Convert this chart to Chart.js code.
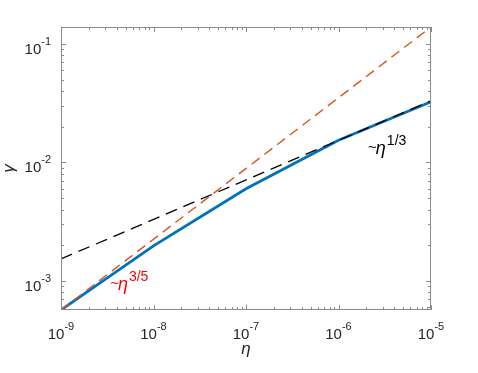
<!DOCTYPE html>
<html>
<head>
<meta charset="utf-8">
<script src="https://cdn.jsdelivr.net/npm/chart.js@4"></script>
<style>
  html, body { margin: 0; padding: 0; background: #fff; }
  #wrap { width: 478px; height: 373px; }
</style>
</head>
<body>
<div id="wrap"><canvas id="c"></canvas></div>
<script>
// data
const etaSim = [1e-9, 1e-8, 1e-7, 1e-6, 1e-5];
const gammaSim = [5.69e-4, 1.98e-3, 6.0e-3, 1.54e-2, 3.25e-2];
const etaFit = [1e-9, 1e-5];
const fit35 = [5.69e-4, 0.139];
const fit13 = [1.535e-3, 0.0331];
const xTickExp = [-9, -8, -7, -6, -5];
const yTickExp = [-3, -2, -1];
const xRange = [1e-9, 1e-5];
const yRange = [5.69e-4, 0.139];

const axisGray = '#8a8a8a';
const textCol = '#262626';
const FONT = '"Liberation Sans", Arial, Helvetica, sans-serif';

function pts(xs, ys) { return xs.map((x, i) => ({ x: x, y: ys[i] })); }

// draws "10" with a raised exponent; align: 'center' or 'right'
function powLabel(ctx, x, base, exp, align, color) {
  ctx.fillStyle = color;
  ctx.font = '15px ' + FONT;
  const wb = ctx.measureText('10').width;
  ctx.font = '11px ' + FONT;
  const we = ctx.measureText(exp).width;
  const w = wb + we;
  const left = align === 'center' ? x - w / 2 : x - w;
  ctx.textAlign = 'left';
  ctx.textBaseline = 'alphabetic';
  ctx.font = '15px ' + FONT;
  ctx.fillText('10', left, base);
  ctx.font = '11px ' + FONT;
  ctx.fillText(exp, left + wb, base - 9);
}

const frame = {
  id: 'frame',
  afterDraw(chart) {
    const ctx = chart.ctx;
    const a = chart.chartArea;
    const xs = chart.scales.x, ys = chart.scales.y;
    ctx.save();
    ctx.strokeStyle = axisGray;
    ctx.lineWidth = 1;
    ctx.strokeRect(a.left + 0.5, a.top + 0.5, a.right - a.left - 1, a.bottom - a.top - 1);

    // x ticks (bottom and top, pointing inward)
    for (let e = -9; e <= -5; e++) {
      for (let m = 1; m <= 9; m++) {
        const v = m * Math.pow(10, e);
        if (v > xRange[1] * 1.0001) break;
        const px = Math.round(xs.getPixelForValue(v)) + 0.5;
        const len = m === 1 ? 5 : 3;
        ctx.beginPath();
        ctx.moveTo(px, a.bottom); ctx.lineTo(px, a.bottom - len);
        ctx.moveTo(px, a.top); ctx.lineTo(px, a.top + len);
        ctx.stroke();
      }
    }
    // y ticks (left and right)
    for (let e = -4; e <= -1; e++) {
      for (let m = 1; m <= 9; m++) {
        const v = m * Math.pow(10, e);
        if (v < yRange[0] || v > yRange[1]) continue;
        const py = Math.round(ys.getPixelForValue(v)) + 0.5;
        const len = m === 1 ? 5 : 3;
        ctx.beginPath();
        ctx.moveTo(a.left, py); ctx.lineTo(a.left + len, py);
        ctx.moveTo(a.right, py); ctx.lineTo(a.right - len, py);
        ctx.stroke();
      }
    }

    // tick labels
    xTickExp.forEach(e => {
      powLabel(ctx, xs.getPixelForValue(Math.pow(10, e)), a.bottom + 29, String(e), 'center', textCol);
    });
    yTickExp.forEach(e => {
      powLabel(ctx, a.left - 10, ys.getPixelForValue(Math.pow(10, e)) + 10, String(e), 'right', textCol);
    });

    // axis titles
    ctx.fillStyle = textCol;
    ctx.font = 'italic 17px ' + FONT;
    ctx.textAlign = 'center';
    ctx.textBaseline = 'alphabetic';
    ctx.fillText('η', (a.left + a.right) / 2, a.bottom + 44);
    ctx.save();
    ctx.translate(14, (a.top + a.bottom) / 2);
    ctx.rotate(-Math.PI / 2);
    ctx.fillText('γ', 0, 0);
    ctx.restore();

    // slope annotations
    const note = (xv, yv, exp, color) => {
      let px = xs.getPixelForValue(xv), py = ys.getPixelForValue(yv);
      ctx.fillStyle = color;
      ctx.textAlign = 'left';
      ctx.font = '15px ' + FONT;
      ctx.fillText('~', px, py - 2);
      px += ctx.measureText('~').width - 1;
      ctx.font = 'italic 18px ' + FONT;
      ctx.fillText('η', px, py);
      px += ctx.measureText('η').width + 1;
      ctx.font = '14px ' + FONT;
      ctx.fillText(exp, px, py - 9);
    };
    note(3.4e-9, 8.4e-4, '3/5', '#ff0000');
    note(2.09e-6, 1.17e-2, '1/3', '#000000');
    ctx.restore();
  }
};

new Chart(document.getElementById('c'), {
  type: 'line',
  data: {
    datasets: [
      {
        data: pts(etaFit, fit13),
        borderColor: '#000000',
        borderWidth: 1.3,
        borderDash: [12, 7],
        pointRadius: 0,
        fill: false
      },
      {
        data: pts(etaFit, fit35),
        borderColor: '#D95319',
        borderWidth: 1.4,
        borderDash: [10, 6],
        pointRadius: 0,
        fill: false
      },
      {
        data: pts(etaSim, gammaSim),
        borderColor: '#0072BD',
        borderWidth: 2.8,
        pointRadius: 0,
        fill: false
      }
    ]
  },
  options: {
    responsive: true,
    maintainAspectRatio: false,
    animation: false,
    layout: { padding: { left: 61, right: 47, top: 27, bottom: 63 } },
    plugins: { legend: { display: false }, tooltip: { enabled: false } },
    scales: {
      x: { type: 'logarithmic', min: xRange[0], max: xRange[1], display: false },
      y: { type: 'logarithmic', min: yRange[0], max: yRange[1], display: false }
    }
  },
  plugins: [frame]
});
</script>
</body>
</html>
